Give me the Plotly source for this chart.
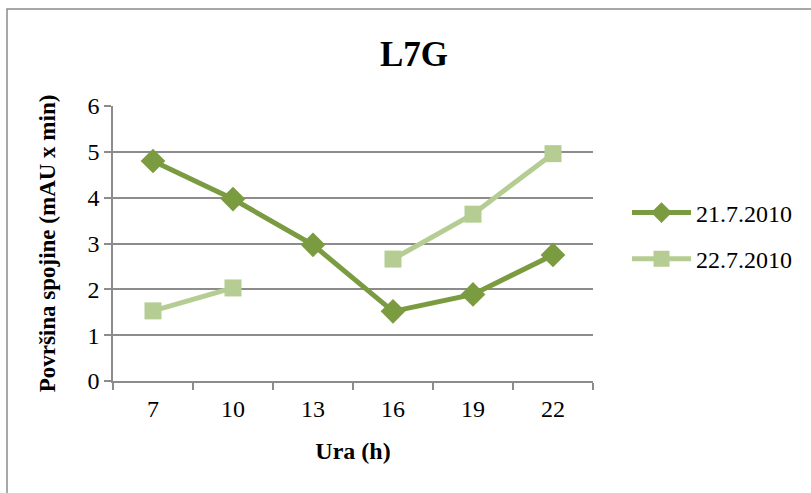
import plotly.graph_objects as go

# Measurement hours and peak areas for the two sampling days
hours = ["7", "10", "13", "16", "19", "22"]
day1_label = "21.7.2010"
day1_area = [4.80, 3.97, 2.97, 1.52, 1.89, 2.75]
day2_label = "22.7.2010"
day2_area = [1.53, 2.03, None, 2.66, 3.64, 4.96]

chart_title = "L7G"
x_title = "Ura (h)"
y_title = "Površina spojine (mAU x min)"

FONT = "Liberation Serif, Times New Roman, serif"
DARK = "#7B9B41"
LIGHT = "#B5CD92"
GRID = "#8C8C8C"

fig = go.Figure()
fig.add_trace(go.Scatter(
    x=hours, y=day1_area, name=day1_label, mode="lines+markers",
    legendgroup="d1",
    line=dict(color=DARK, width=5),
    marker=dict(symbol="diamond", size=19, color=DARK),
    connectgaps=False,
))
fig.add_trace(go.Scatter(
    x=hours, y=day2_area, name=day2_label, mode="lines+markers",
    legendgroup="d2",
    line=dict(color=LIGHT, width=5),
    marker=dict(symbol="square", size=17, color=LIGHT),
    connectgaps=False,
))

L, R, T, B = 113, 218, 106, 112
W, H = 811, 493
pw, ph = W - L - R, H - T - B

def px(x):
    return (x - L) / pw

def py(y):
    return (H - B - y) / ph

fig.update_layout(
    width=W, height=H,
    margin=dict(l=L, r=R, t=T, b=B),
    paper_bgcolor="white", plot_bgcolor="white",
    font=dict(family=FONT, color="black", size=24),
    title=dict(text="<b>" + chart_title + "</b>", x=414 / W, xanchor="center",
               y=1 - 54 / H, yanchor="middle",
               font=dict(family=FONT, size=35, color="black")),
    showlegend=True,
    legend=dict(x=px(627), y=py(236), xanchor="left", yanchor="middle",
                font=dict(family=FONT, size=24, color="black"),
                itemwidth=59, tracegroupgap=12, traceorder="grouped",
                bgcolor="rgba(0,0,0,0)"),
    xaxis=dict(
        type="category", range=[-0.5, 5.5],
        showline=True, linecolor=GRID, linewidth=1.5,
        ticks="outside", ticklen=7, tickcolor=GRID, tickwidth=1.5,
        tickson="boundaries", showgrid=False,
        ticklabelstandoff=5,
        tickfont=dict(family=FONT, size=24),
        title=dict(text="<b>" + x_title + "</b>", standoff=22,
                   font=dict(family=FONT, size=24)),
    ),
    yaxis=dict(
        range=[0, 6], dtick=1,
        showline=True, linecolor=GRID, linewidth=1.5,
        ticks="outside", ticklen=7, tickcolor=GRID, tickwidth=1.5,
        showgrid=True, gridcolor=GRID, gridwidth=1.5,
        zeroline=False,
        tickfont=dict(family=FONT, size=24),
        title=dict(text="<b>" + y_title + "</b>", standoff=25,
                   font=dict(family=FONT, size=23)),
    ),
)

# Outer chart-area frame
fig.add_shape(type="rect", xref="paper", yref="paper",
              x0=px(7), x1=px(830), y0=py(510), y1=py(9),
              line=dict(color="#8C8C8C", width=1.5), layer="below")

fig.write_html("out.html")
